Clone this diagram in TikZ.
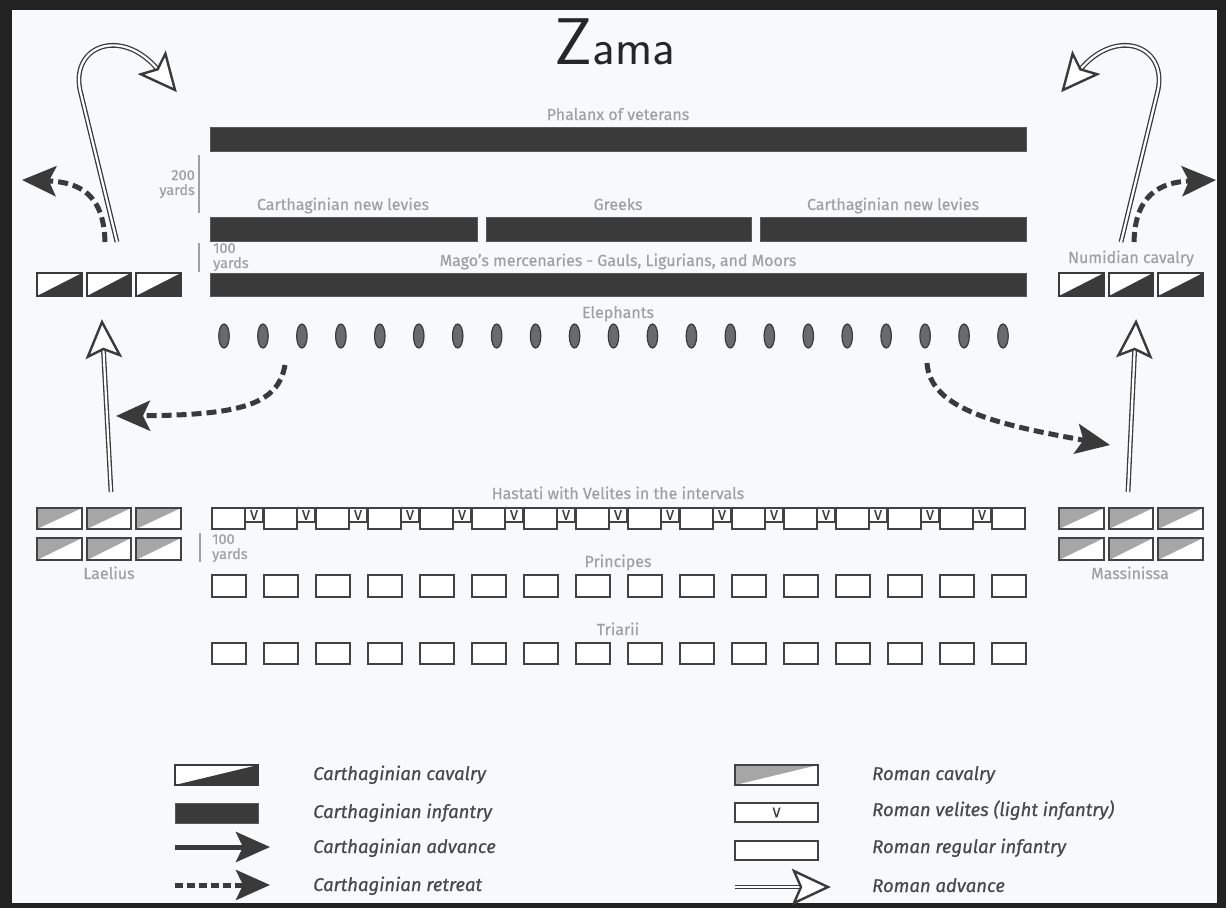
\documentclass[tikz,border=0pt]{standalone}
\usepackage{fontspec}
\setmainfont{Fira Sans}
\newfontfamily\semib[FakeBold=0.5]{Fira Sans}
\usetikzlibrary{arrows.meta,shapes.geometric}
\definecolor{cdark}{HTML}{3A3A3A}
\definecolor{lgray}{HTML}{A0A0A0}
\definecolor{legtext}{HTML}{484848}
\definecolor{rline}{HTML}{424242}
\definecolor{rgray}{HTML}{A6A6A6}
\definecolor{bgc}{HTML}{F8F9FA}
\definecolor{elfill}{HTML}{6A6A6A}
\definecolor{frame}{HTML}{222222}
\tikzset{
  lbl/.style={text=lgray, font=\semib\fontsize{16}{16}\selectfont, inner sep=0pt},
  slbl/.style={text=lgray, font=\semib\fontsize{14.5}{14.5}\selectfont, inner sep=0pt},
  legl/.style={text=legtext, font=\semib\itshape\fontsize{18.5}{18.5}\selectfont, inner sep=0pt, anchor=base west},
  cinf/.style={fill=cdark, draw=cdark!85!white, line width=0.8pt},
  rbox/.style={draw=rline, line width=2.2pt, fill=white},
  scaleline/.style={draw=lgray, line width=2pt},
  eleph/.style={ellipse, draw=cdark, line width=1.2pt, fill=elfill, minimum width=10.5pt, minimum height=24pt, inner sep=0pt},
  retreat/.style={draw=cdark, line width=5pt, dash pattern=on 10pt off 5pt, -{Stealth[length=34pt,width=30pt,inset=7pt]}},
  advance/.style={draw=cdark, line width=5pt, -{Stealth[length=34pt,width=30pt,inset=7pt]}},
  radv/.style={draw=cdark, double=white, double distance=2.2pt, line width=1.3pt},
  vlabel/.style={inner sep=0pt, text=cdark, font=\semib\fontsize{14}{14}\selectfont},
  rhead/.pic={\draw[cdark, line width=2.4pt, fill=white, line join=miter, miter limit=6] (0,0) -- (-34,-16) -- (-27,0) -- (-34,16) -- cycle;}
}
\newcommand\CCav[4]{%
  \fill[white] (#1,#2) rectangle (#3,#4);
  \fill[cdark] (#1,#4) -- (#3,#2) -- (#3,#4) -- cycle;
  \draw[cdark, line width=2pt] (#1,#2) rectangle (#3,#4);}
\newcommand\RCav[4]{%
  \fill[white] (#1,#2) rectangle (#3,#4);
  \fill[rgray] (#1,#2) -- (#3,#2) -- (#1,#4) -- cycle;
  \draw[rline, line width=2.2pt] (#1,#2) rectangle (#3,#4);}
\begin{document}
\begin{tikzpicture}[x=1pt,y=-1pt]
\useasboundingbox (0,0) rectangle (1226,908);
\fill[frame] (0,0) rectangle (1226,908);
\fill[bgc] (12,10) rectangle (1217,903);

% title
\node[anchor=base, inner sep=0pt, text=black!85] (title) at (615,64) {\sffamily\fontsize{66}{66}\selectfont Z\fontsize{50}{50}\selectfont ama};

% Carthaginian lines
\node[lbl, anchor=base] (lphal) at (618,120) {Phalanx of veterans};
\fill[cinf] (210,127) rectangle (1026,151);
\node[lbl, anchor=base] (llev1) at (343,210) {Carthaginian new levies};
\node[lbl, anchor=base] (lgreek) at (618,210) {Greeks};
\node[lbl, anchor=base] (llev2) at (893,210) {Carthaginian new levies};
\fill[cinf] (210,217) rectangle (477,241);
\fill[cinf] (486,217) rectangle (751,241);
\fill[cinf] (760,217) rectangle (1026,241);
\node[lbl, anchor=base] (lmago) at (618,266) {Mago’s mercenaries - Gauls, Ligurians, and Moors};
\fill[cinf] (210,273) rectangle (1026,296);
\node[lbl, anchor=base] (leleph) at (618,318) {Elephants};
\foreach \i in {0,...,20} \node[eleph] (e\i) at ({224+38.95*\i},336) {};

% scale markers
\draw[scaleline] (199,155) -- (199,213);
\node[slbl, anchor=base east] (s200a) at (195,180) {200};
\node[slbl, anchor=base east] (s200b) at (195,195) {yards};
\draw[scaleline] (199,243) -- (199,272);
\node[slbl, anchor=base west] (s100a) at (213,253) {100};
\node[slbl, anchor=base west] (s100b) at (213,268) {yards};
\draw[scaleline] (200,533) -- (200,562);
\node[slbl, anchor=base west] (s100c) at (212,544) {100};
\node[slbl, anchor=base west] (s100d) at (212,559) {yards};

% Carthaginian cavalry
\CCav{37}{273}{82}{296}
\CCav{87}{273}{131}{296}
\CCav{136}{273}{181}{296}
\node[lbl, anchor=base] (lnum) at (1131,263) {Numidian cavalry};
\CCav{1059}{273}{1104}{296}
\CCav{1109}{273}{1153}{296}
\CCav{1158}{273}{1203}{296}

% Roman lines
\node[lbl, anchor=base] (lhast) at (618,499) {Hastati with Velites in the intervals};
\foreach \i in {0,...,14} {
  \draw[rbox] ({245+52*\i},508) rectangle ++(18,14);
  \node[vlabel] (v\i) at ({254+52*\i},515) {V};
}
\foreach \i in {0,...,15} \draw[rbox] ({212+52*\i},508) rectangle ++(33,21);
\node[lbl, anchor=base] (lprin) at (618,567) {Principes};
\foreach \i in {0,...,15} \draw[rbox] ({212+52*\i},575) rectangle ++(34,22);
\node[lbl, anchor=base] (ltri) at (618,635) {Triarii};
\foreach \i in {0,...,15} \draw[rbox] ({212+52*\i},643) rectangle ++(34,21);

% Roman cavalry
\RCav{37}{508}{82}{529}
\RCav{87}{508}{131}{529}
\RCav{136}{508}{181}{529}
\RCav{37}{538}{82}{560}
\RCav{87}{538}{131}{560}
\RCav{136}{538}{181}{560}
\node[lbl, anchor=base] (llael) at (109,579) {Laelius};
\RCav{1059}{508}{1104}{529}
\RCav{1109}{508}{1153}{529}
\RCav{1158}{508}{1203}{529}
\RCav{1059}{538}{1104}{560}
\RCav{1109}{538}{1153}{560}
\RCav{1158}{538}{1203}{560}
\node[lbl, anchor=base] (lmass) at (1130,579) {Massinissa};

% Carthaginian retreat arrows
\coordinate (ra0) at (105,242); \coordinate (ra1) at (22,180);
\draw[retreat] (ra0) .. controls (104,195) and (80,182) .. (ra1);
\coordinate (rb0) at (1134,242); \coordinate (rb1) at (1216,180);
\draw[retreat] (rb0) .. controls (1135,195) and (1160,182) .. (rb1);
\coordinate (rc0) at (285,365); \coordinate (rc1) at (116,416);
\draw[retreat] (rc0) .. controls (278,405) and (240,415) .. (rc1);
\coordinate (rd0) at (927,363); \coordinate (rd1) at (1110,445);
\draw[retreat] (rd0) .. controls (930,410) and (1000,425) .. (rd1);

% Roman advance arrows
\coordinate (aa0) at (111,492); \coordinate (aa1) at (103.4,349); \coordinate (aat) at (102,322);
\draw[radv] (aa0) -- (aa1);
\pic[rotate=93] at (aat) {rhead};
\coordinate (ab0) at (1128,492); \coordinate (ab1) at (1134.7,349); \coordinate (abt) at (1136,322);
\draw[radv] (ab0) -- (ab1);
\pic[rotate=87.3] at (abt) {rhead};
\coordinate (ac0) at (117,242); \coordinate (ac1) at (157.6,69.3); \coordinate (act) at (175,90);
\draw[radv] (ac0) -- (80,90) .. controls (71,45) and (122,27) .. (ac1);
\pic[rotate=-50] at (act) {rhead};
\coordinate (ad0) at (1121,242); \coordinate (ad1) at (1080.4,69.3); \coordinate (adt) at (1063,90);
\draw[radv] (ad0) -- (1158,90) .. controls (1167,45) and (1116,27) .. (ad1);
\pic[rotate=-130] at (adt) {rhead};

% Legend left
\CCav{175}{765}{258}{785}
\node[legl] (lg1) at (313,780) {Carthaginian cavalry};
\fill[cinf] (175,803) rectangle (258,823);
\node[legl] (lg2) at (313,818) {Carthaginian infantry};
\coordinate (lga0) at (175,847); \coordinate (lga1) at (270,847);
\draw[advance] (lga0) -- (lga1);
\node[legl] (lg3) at (313,853) {Carthaginian advance};
\coordinate (lgr0) at (175,885); \coordinate (lgr1) at (270,885);
\draw[retreat, dash pattern=on 8pt off 4pt] (lgr0) -- (lgr1);
\node[legl] (lg4) at (313,891) {Carthaginian retreat};

% Legend right
\RCav{735}{765}{818}{785}
\node[legl] (lg5) at (872,780) {Roman cavalry};
\draw[rbox] (735,803) rectangle (818,822);
\node[vlabel] (lgv) at (776.5,812.5) {V};
\node[legl] (lg6) at (872,816) {Roman velites (light infantry)};
\draw[rbox] (735,841) rectangle (818,860);
\node[legl] (lg7) at (872,853) {Roman regular infantry};
\coordinate (lgb0) at (735,887); \coordinate (lgb1) at (801,887); \coordinate (lgbt) at (828,887);
\draw[radv] (lgb0) -- (lgb1);
\pic at (lgbt) {rhead};
\node[legl] (lg8) at (872,892) {Roman advance};
\end{tikzpicture}
\end{document}
